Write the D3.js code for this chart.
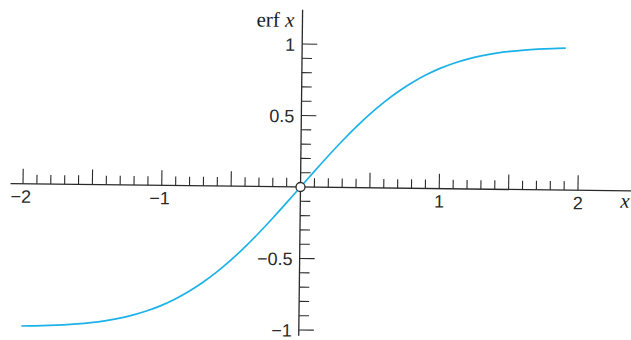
<!DOCTYPE html>
<html>
<head>
<meta charset="utf-8">
<script src="https://cdn.jsdelivr.net/npm/d3@7"></script>
<style>
  html, body { margin: 0; padding: 0; background: #fff; }
  svg { display: block; }
</style>
</head>
<body>
<svg id="chart" width="631" height="340"></svg>
<script>
// Error function erf x, sampled every 0.1
const xValues = [-2.0, -1.9, -1.8, -1.7, -1.6, -1.5, -1.4, -1.3, -1.2, -1.1,
                 -1.0, -0.9, -0.8, -0.7, -0.6, -0.5, -0.4, -0.3, -0.2, -0.1,
                  0.0,  0.1,  0.2,  0.3,  0.4,  0.5,  0.6,  0.7,  0.8,  0.9,
                  1.0,  1.1,  1.2,  1.3,  1.4,  1.5,  1.6,  1.7,  1.8,  1.9];
const erfValues = [-0.9953, -0.9928, -0.9891, -0.9838, -0.9763, -0.9661, -0.9523, -0.9340, -0.9103, -0.8802,
                   -0.8427, -0.7969, -0.7421, -0.6778, -0.6039, -0.5205, -0.4284, -0.3286, -0.2227, -0.1125,
                    0.0000,  0.1125,  0.2227,  0.3286,  0.4284,  0.5205,  0.6039,  0.6778,  0.7421,  0.7969,
                    0.8427,  0.8802,  0.9103,  0.9340,  0.9523,  0.9661,  0.9763,  0.9838,  0.9891,  0.9928];

const xTickValues = d3.range(-20, 21).filter(d => d !== 0).map(d => d / 10);
const yTickValues = d3.range(-10, 11).filter(d => d !== 0).map(d => d / 10);
const xTickLabels = [{v: -2, t: "\u22122"}, {v: -1, t: "\u22121"}, {v: 1, t: "1"}, {v: 2, t: "2"}];
const yTickLabels = [{v: 1, t: "1"}, {v: 0.5, t: "0.5"}, {v: -0.5, t: "\u22120.5"}, {v: -1, t: "\u22121"}];

const origin = {x: 300.5, y: 187};
const tilt = 0.68;

const x = d3.scaleLinear().domain([0, 1]).range([0, 138.75]);
const y = d3.scaleLinear().domain([0, 1]).range([0, -143]);

const svg = d3.select("#chart");
const g = svg.append("g")
  .attr("transform", `translate(${origin.x},${origin.y}) rotate(${tilt})`);

const ink = "#2a2a2a";
const isMajor = v => Math.abs(Math.round(v * 10) % 5) === 0;

// horizontal axis
g.append("line")
  .attr("x1", x(-2.09)).attr("x2", x(2.5))
  .attr("y1", 0).attr("y2", 0)
  .attr("stroke", ink).attr("stroke-width", 1.3);

g.selectAll(".xtick").data(xTickValues).join("line")
  .attr("class", "xtick")
  .attr("x1", d => x(d)).attr("x2", d => x(d))
  .attr("y1", 0).attr("y2", d => isMajor(d) ? -15 : -9)
  .attr("stroke", ink).attr("stroke-width", 1.1);

// vertical axis
g.append("line")
  .attr("x1", 0).attr("x2", 0)
  .attr("y1", y(1.24)).attr("y2", y(-1.04))
  .attr("stroke", ink).attr("stroke-width", 1.3);

g.selectAll(".ytick").data(yTickValues).join("line")
  .attr("class", "ytick")
  .attr("x1", 0).attr("x2", d => isMajor(d) ? 15 : 10)
  .attr("y1", d => y(d)).attr("y2", d => y(d))
  .attr("stroke", ink).attr("stroke-width", 1.1);

// tick labels
const labelFont = "'Liberation Sans', Arial, sans-serif";
g.selectAll(".xlab").data(xTickLabels).join("text")
  .attr("class", "xlab")
  .attr("x", d => x(d.v) - (d.v < 0 ? 2 : 0))
  .attr("y", 19)
  .attr("text-anchor", "middle")
  .attr("font-family", labelFont).attr("font-size", 18)
  .attr("fill", ink)
  .text(d => d.t);

g.selectAll(".ylab").data(yTickLabels).join("text")
  .attr("class", "ylab")
  .attr("x", -7)
  .attr("y", d => y(d.v))
  .attr("dy", "0.38em")
  .attr("text-anchor", "end")
  .attr("font-family", labelFont).attr("font-size", 18)
  .attr("fill", ink)
  .text(d => d.t);

// axis titles
const title = g.append("text")
  .attr("x", -8).attr("y", -160)
  .attr("text-anchor", "end")
  .attr("font-family", "'Liberation Serif', 'DejaVu Serif', serif")
  .attr("font-size", 21)
  .attr("fill", "#1a1a1a");
title.append("tspan").text("erf ");
title.append("tspan").attr("font-style", "italic").text("x");

g.append("text")
  .attr("x", 320).attr("y", 17)
  .attr("font-family", "'Liberation Serif', 'DejaVu Serif', serif")
  .attr("font-style", "italic")
  .attr("font-size", 21)
  .attr("fill", "#1a1a1a")
  .text("x");

// the curve
const pts = xValues.map((v, i) => [v, erfValues[i]]);
const line = d3.line()
  .x(d => x(d[0]))
  .y(d => y(d[1]))
  .curve(d3.curveCatmullRom.alpha(0.5));

g.append("path")
  .datum(pts)
  .attr("d", line)
  .attr("fill", "none")
  .attr("stroke", "#1cb2e8")
  .attr("stroke-width", 1.7);

// open circle at the origin
g.append("circle")
  .attr("cx", x(0)).attr("cy", y(0)).attr("r", 4.5)
  .attr("fill", "#fff")
  .attr("stroke", ink).attr("stroke-width", 1.3);
</script>
</body>
</html>
